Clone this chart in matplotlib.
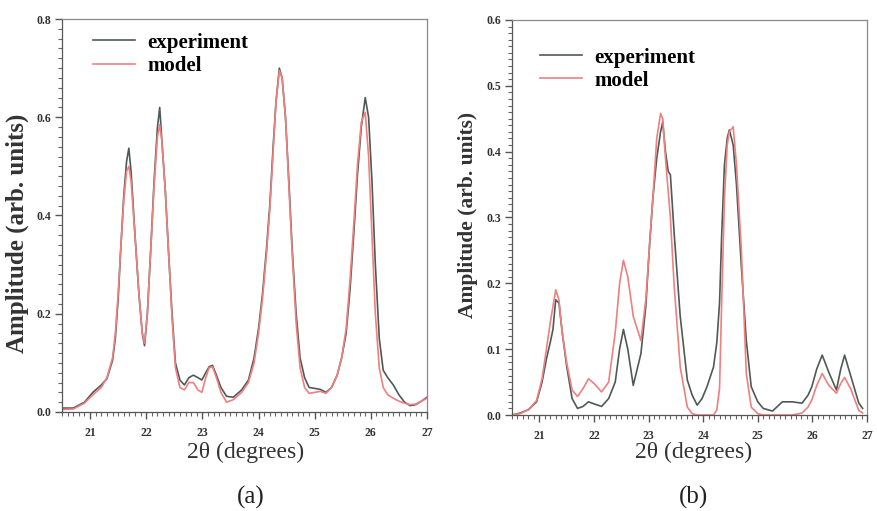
import matplotlib
matplotlib.use("Agg")
import matplotlib.pyplot as plt
from matplotlib.ticker import MultipleLocator

# ---- data ----
# panel (a)
xa = [20.5, 20.7, 20.9, 21.05, 21.2, 21.3, 21.4, 21.45, 21.5, 21.55,
      21.6, 21.65, 21.69, 21.73, 21.8, 21.87, 21.93, 21.97, 22.02, 22.08,
      22.14, 22.2, 22.24, 22.28, 22.34, 22.4, 22.46, 22.52, 22.6, 22.68,
      22.76, 22.84, 22.92, 22.99, 23.06, 23.12, 23.18, 23.25, 23.33, 23.43,
      23.55, 23.7, 23.82, 23.92, 24.0, 24.07, 24.14, 24.2, 24.26, 24.31,
      24.37, 24.42, 24.48, 24.54, 24.6, 24.67, 24.74, 24.82, 24.9, 25.0,
      25.1, 25.2, 25.3, 25.4, 25.48, 25.56, 25.63, 25.7, 25.76, 25.83,
      25.9, 25.96, 26.02, 26.08, 26.15, 26.22, 26.3, 26.4, 26.5, 26.6,
      26.7, 26.8, 26.9, 27.0]
exp_a = [0.008, 0.008, 0.02, 0.04, 0.055, 0.068, 0.105, 0.15, 0.23, 0.34,
         0.44, 0.51, 0.537, 0.49, 0.36, 0.24, 0.16, 0.135, 0.2, 0.33,
         0.47, 0.58, 0.62, 0.55, 0.45, 0.32, 0.2, 0.1, 0.065, 0.055,
         0.07, 0.075, 0.07, 0.065, 0.08, 0.092, 0.095, 0.075, 0.05, 0.032,
         0.03, 0.045, 0.065, 0.11, 0.17, 0.24, 0.33, 0.42, 0.54, 0.63,
         0.70, 0.68, 0.6, 0.47, 0.33, 0.2, 0.11, 0.07, 0.05, 0.048,
         0.046, 0.04, 0.05, 0.075, 0.11, 0.16, 0.25, 0.37, 0.48, 0.58,
         0.64, 0.6, 0.47, 0.3, 0.15, 0.085, 0.07, 0.055, 0.035, 0.02,
         0.013, 0.015, 0.022, 0.03]
model_a = [0.005, 0.006, 0.018, 0.035, 0.05, 0.07, 0.11, 0.16, 0.24, 0.34,
           0.43, 0.49, 0.5, 0.47, 0.36, 0.24, 0.16, 0.14, 0.2, 0.33,
           0.46, 0.56, 0.585, 0.55, 0.45, 0.32, 0.19, 0.09, 0.05, 0.045,
           0.06, 0.06, 0.045, 0.04, 0.07, 0.09, 0.092, 0.07, 0.04, 0.02,
           0.025, 0.04, 0.06, 0.1, 0.16, 0.23, 0.32, 0.41, 0.53, 0.63,
           0.695, 0.68, 0.6, 0.46, 0.32, 0.18, 0.09, 0.05, 0.038, 0.04,
           0.042, 0.038, 0.05, 0.075, 0.11, 0.17, 0.27, 0.39, 0.5, 0.59,
           0.61, 0.52, 0.36, 0.2, 0.09, 0.05, 0.035, 0.028, 0.022, 0.018,
           0.015, 0.016, 0.022, 0.028]

# panel (b)
xb = [20.5, 20.65, 20.8, 20.95, 21.05, 21.13, 21.2, 21.25, 21.3, 21.36,
      21.42, 21.5, 21.6, 21.7, 21.8, 21.9, 22.0, 22.14, 22.27, 22.39,
      22.47, 22.54, 22.62, 22.72, 22.86, 22.95, 23.02, 23.08, 23.15, 23.22,
      23.26, 23.31, 23.36, 23.4, 23.47, 23.58, 23.71, 23.8, 23.89, 23.98,
      24.07, 24.19, 24.25, 24.3, 24.34, 24.39, 24.44, 24.48, 24.55, 24.61,
      24.7, 24.79, 24.88, 25.0, 25.1, 25.27, 25.45, 25.63, 25.81, 25.92,
      25.99, 26.08, 26.18, 26.3, 26.44, 26.52, 26.59, 26.7, 26.85, 26.92]
exp_b = [0.0, 0.003, 0.008, 0.02, 0.05, 0.085, 0.11, 0.13, 0.175, 0.17,
         0.125, 0.075, 0.025, 0.01, 0.013, 0.02, 0.017, 0.013, 0.025, 0.05,
         0.1, 0.13, 0.1, 0.045, 0.093, 0.165, 0.26, 0.33, 0.39, 0.43,
         0.445, 0.40, 0.37, 0.365, 0.275, 0.15, 0.053, 0.03, 0.015, 0.025,
         0.043, 0.073, 0.11, 0.17, 0.275, 0.38, 0.42, 0.433, 0.41, 0.35,
         0.225, 0.113, 0.043, 0.02, 0.01, 0.006, 0.02, 0.02, 0.018, 0.03,
         0.043, 0.07, 0.091, 0.065, 0.038, 0.07, 0.091, 0.06, 0.018, 0.01]
model_b = [0.0, 0.002, 0.008, 0.022, 0.055, 0.1, 0.14, 0.165, 0.19, 0.175,
           0.125, 0.08, 0.038, 0.028, 0.04, 0.055, 0.048, 0.035, 0.05, 0.125,
           0.2, 0.235, 0.21, 0.15, 0.113, 0.175, 0.26, 0.33, 0.42, 0.458,
           0.45, 0.39, 0.34, 0.30, 0.195, 0.073, 0.012, 0.002, 0.0, 0.0,
           0.0, 0.0, 0.008, 0.04, 0.175, 0.33, 0.41, 0.43, 0.438, 0.38,
           0.25, 0.063, 0.012, 0.002, 0.0, 0.0, 0.0, 0.0, 0.003, 0.012,
           0.023, 0.045, 0.063, 0.045, 0.033, 0.048, 0.057, 0.04, 0.007, 0.003]

series_labels = ["experiment", "model"]
panel_tags = ["(a)", "(b)"]

EXP_COL = "#4f5a55"
MOD_COL = "#f07f7f"
SERIF = ["Liberation Serif", "DejaVu Serif"]

plt.rcParams["font.family"] = SERIF

fig = plt.figure(figsize=(8.77, 5.11), dpi=100)
W, H = 877.0, 511.0

def px_axes(l, t, r, b):
    return fig.add_axes([l / W, 1 - b / H, (r - l) / W, (b - t) / H])

ax1 = px_axes(62, 19, 427, 412)
ax2 = px_axes(512, 20, 867, 415)   # a touch narrower so the "27" label fits

def style(ax, ymax, ymaj, ymin):
    ax.set_xlim(20.5, 27)
    ax.set_ylim(0, ymax)
    ax.xaxis.set_major_locator(MultipleLocator(1))
    ax.xaxis.set_minor_locator(MultipleLocator(0.1))
    ax.yaxis.set_major_locator(MultipleLocator(ymaj))
    ax.yaxis.set_minor_locator(MultipleLocator(ymin))
    ax.yaxis.set_major_formatter(plt.FormatStrFormatter("%.1f"))
    ax.tick_params(which="major", direction="out", length=5, width=1.0,
                   color="#555555", labelsize=8.5, pad=3)
    ax.tick_params(which="minor", direction="out", length=3, width=0.8,
                   color="#666666")
    ax.tick_params(axis="x", which="major", pad=6)
    for lab in ax.get_xticklabels() + ax.get_yticklabels():
        lab.set_fontweight("bold")
        lab.set_color("#333333")
    for s in ax.spines.values():
        s.set_color("#8a8a8a")
        s.set_linewidth(0.9)
    ax.spines["left"].set_color("#555555")
    ax.spines["bottom"].set_color("#555555")

style(ax1, 0.8, 0.2, 0.02)
style(ax2, 0.6, 0.1, 0.01)

ax1.plot(xa, exp_a, color=EXP_COL, lw=1.2, label=series_labels[0])
ax1.plot(xa, model_a, color=MOD_COL, lw=1.2, label=series_labels[1])
ax2.plot(xb, exp_b, color=EXP_COL, lw=1.2, label=series_labels[0])
ax2.plot(xb, model_b, color=MOD_COL, lw=1.2, label=series_labels[1])

ax1.legend(loc="upper left", bbox_to_anchor=(0.085, 0.965), frameon=False,
           borderpad=0, borderaxespad=0, handlelength=2.0, handletextpad=0.6,
           labelspacing=0.15, prop={"size": 15, "weight": "bold"})
ax2.legend(loc="upper left", bbox_to_anchor=(0.079, 0.93), frameon=False,
           borderpad=0, borderaxespad=0, handlelength=2.0, handletextpad=0.6,
           labelspacing=0.15, prop={"size": 15, "weight": "bold"})

ax1.set_ylabel("Amplitude (arb. units)", fontsize=18, fontweight="bold",
               color="#333333", va="center")
ax1.yaxis.set_label_coords(-0.123, 0.455)
ax2.set_ylabel("Amplitude (arb. units)", fontsize=15.5, fontweight="bold",
               color="#333333", va="center")
ax2.yaxis.set_label_coords(-0.124, 0.506)

ax1.set_xlabel("2θ (degrees)", fontsize=17, color="#333333", va="center")
ax1.xaxis.set_label_coords(0.504, -0.102)
ax2.set_xlabel("2θ (degrees)", fontsize=17, color="#333333", va="center")
ax2.xaxis.set_label_coords(0.512, -0.094)

fig.text(251 / W, 1 - 497 / H, panel_tags[0], fontsize=18, ha="center",
         va="center", color="#222222")
fig.text(693 / W, 1 - 497 / H, panel_tags[1], fontsize=18, ha="center",
         va="center", color="#222222")

fig.savefig("out.png", dpi=100)
